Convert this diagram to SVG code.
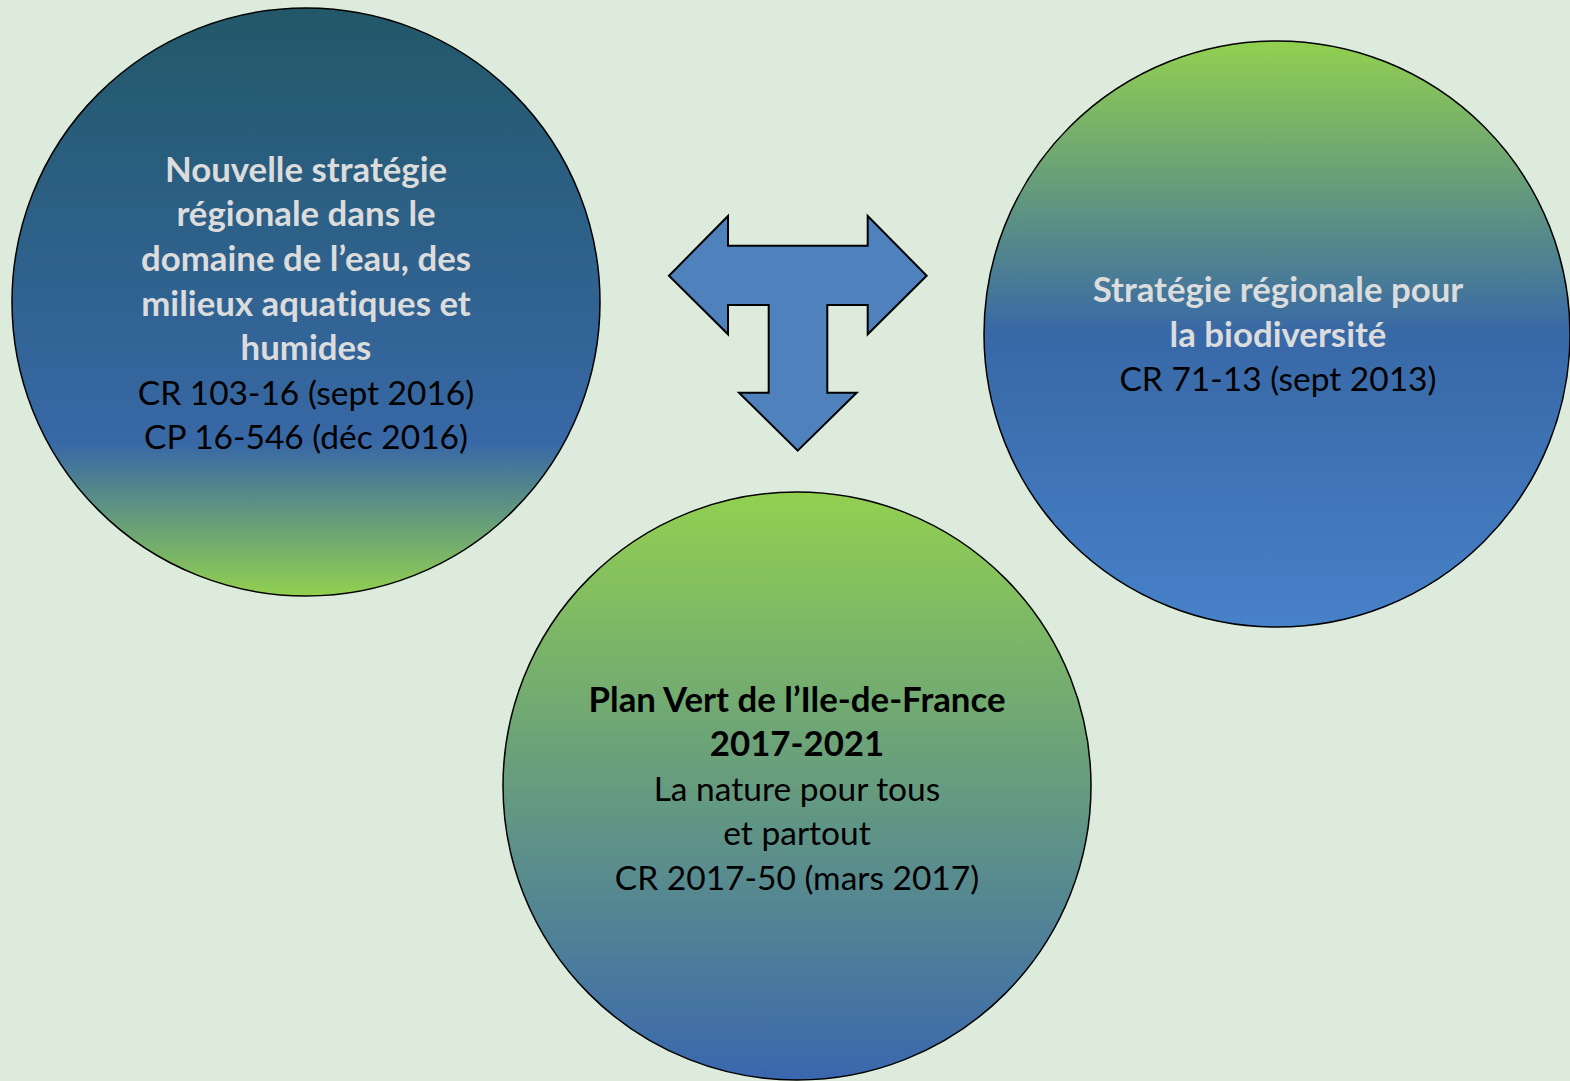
<svg xmlns="http://www.w3.org/2000/svg" width="1570" height="1081" viewBox="0 0 1570 1081">
<defs>
<linearGradient id="gLeft" x1="0" y1="0" x2="0" y2="1">
<stop offset="0" stop-color="#225868"/>
<stop offset="0.74" stop-color="#3868a6"/>
<stop offset="1" stop-color="#92d050"/>
</linearGradient>
<linearGradient id="gRight" x1="0" y1="0" x2="0" y2="1">
<stop offset="0" stop-color="#92d050"/>
<stop offset="0.5" stop-color="#3868a6"/>
<stop offset="1" stop-color="#4781c9"/>
</linearGradient>
<linearGradient id="gBottom" x1="0" y1="0" x2="0" y2="1">
<stop offset="0" stop-color="#92d050"/>
<stop offset="1" stop-color="#3a67ae"/>
</linearGradient>
<style>
.circ { stroke: #000000; stroke-width: 1.5; }
.t { font-family: Lato, "Liberation Sans", sans-serif; font-size: 33.5px; text-anchor: middle; font-variant-ligatures: none; }
.b { font-weight: bold; font-size: 34.8px; }
.lt { fill: #dcdcdc; }
.dk { fill: #000000; }
.arrow { fill: #4f81bd; stroke: #000000; stroke-width: 2; stroke-linejoin: miter; }
</style>
</defs>
<rect x="0" y="0" width="1570" height="1081" fill="#dcebdc"/>

<g id="node-eau">
<circle class="circ" cx="306" cy="302" r="294" fill="url(#gLeft)"/>
<text class="t b lt" x="306" y="181.5">Nouvelle stratégie</text>
<text class="t b lt" x="306" y="226">régionale dans le</text>
<text class="t b lt" x="306" y="270.5">domaine de l’eau, des</text>
<text class="t b lt" x="306" y="315.5">milieux aquatiques et</text>
<text class="t b lt" x="306" y="360">humides</text>
<text class="t dk" x="306" y="404.5">CR 103-16 (sept 2016)</text>
<text class="t dk" x="306" y="449">CP 16-546 (déc 2016)</text>
</g>

<g id="node-biodiversite">
<circle class="circ" cx="1277" cy="334" r="293" fill="url(#gRight)"/>
<text class="t b lt" x="1278" y="302">Stratégie régionale pour</text>
<text class="t b lt" x="1278" y="346.5">la biodiversité</text>
<text class="t dk" x="1278" y="391">CR 71-13 (sept 2013)</text>
</g>

<g id="node-planvert">
<circle class="circ" cx="797" cy="786" r="294" fill="url(#gBottom)"/>
<text class="t b dk" x="797" y="711.5">Plan Vert de l’Ile-de-France</text>
<text class="t b dk" x="797" y="756">2017-2021</text>
<text class="t dk" x="797" y="800.5">La nature pour tous</text>
<text class="t dk" x="797" y="845">et partout</text>
<text class="t dk" x="797" y="890">CR 2017-50 (mars 2017)</text>
</g>

<g id="connectors">
<polygon class="arrow" points="669,275.7 728,216 728,245.7 867.7,245.7 867.7,216 926.7,275.7 867.7,334.3 867.7,305 827.3,305 827.3,392.7 856.7,392.7 797.7,450.7 739,392.7 768.7,392.7 768.7,305 728,305 728,334.3"/>
</g>
</svg>
